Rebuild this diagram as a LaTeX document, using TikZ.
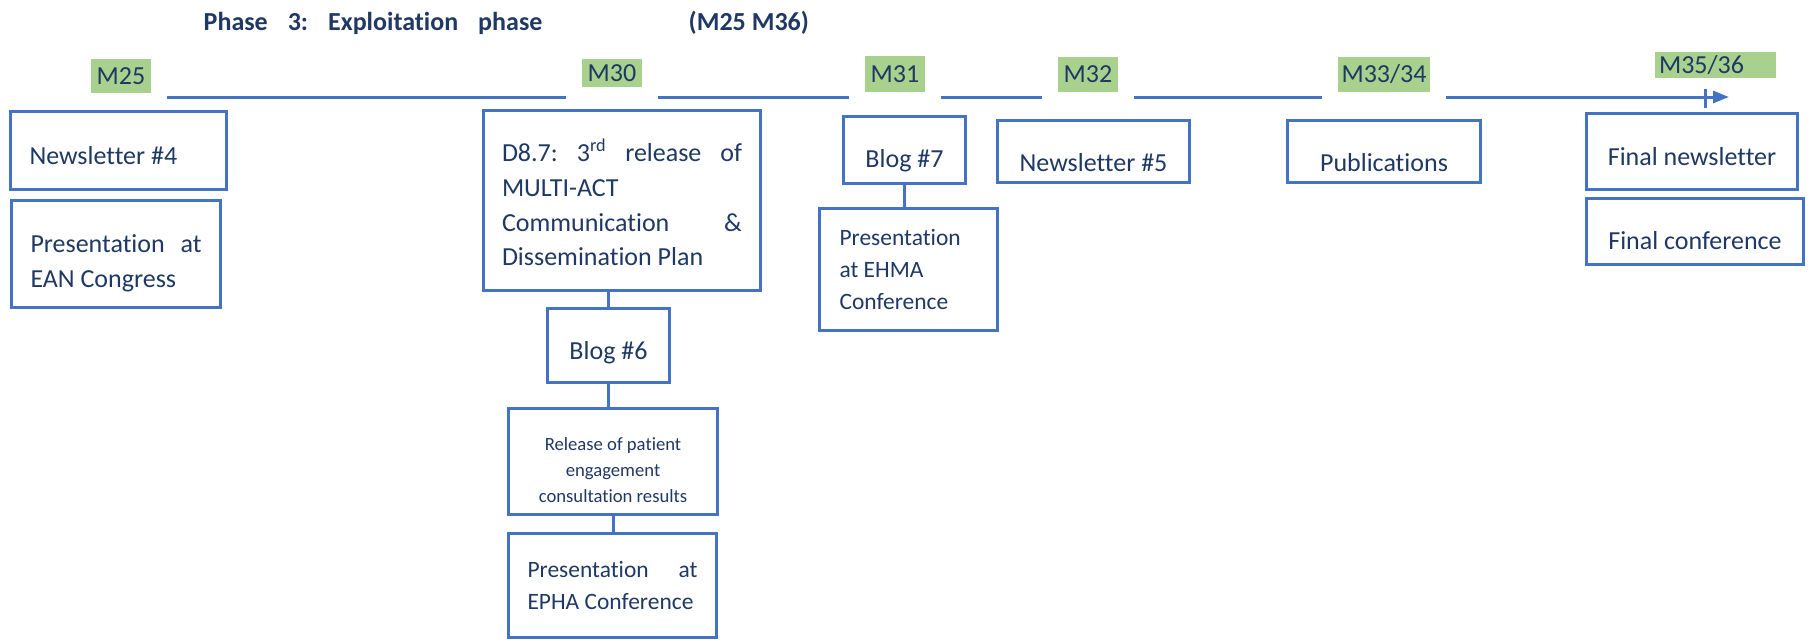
\documentclass[tikz,border=0pt]{standalone}
\usepackage{fontspec}
\setmainfont{Carlito}[Ligatures=NoCommon]
\usetikzlibrary{arrows.meta,calc}
\definecolor{navy}{HTML}{1F3864}
\definecolor{boxblue}{HTML}{4472C4}
\definecolor{mgreen}{HTML}{A9D18E}

\begin{document}
\begin{tikzpicture}[x=0.75pt,y=-0.75pt,
    every node/.style={text=navy, font=\fontsize{19.5}{26}\selectfont},
    evt/.style={draw=boxblue, line width=2.25pt, inner sep=0pt, anchor=north west},
    mlab/.style={fill=mgreen, inner sep=0pt},
    tline/.style={draw=boxblue, line width=2.25pt},
    conn/.style={draw=boxblue, line width=2.25pt},
    txtdown/.style={text height=#1, text depth=4pt}]
    \useasboundingbox (0,0) rectangle (1808,639);
    % title
    \node[anchor=base west, font=\bfseries\fontsize{19.5}{24}\selectfont] (title) at (199,30)
        {Phase\hspace{15pt}3:\hspace{15pt}Exploitation\hspace{15pt}phase};
    \node[anchor=base west, font=\bfseries\fontsize{19.5}{24}\selectfont] (period) at (684,30) {(M25 M36)};
    % month labels
    \node[mlab, minimum width=45pt, minimum height=25.5pt] (m25) at (121,76) {M25};
    \node[mlab, minimum width=45pt, minimum height=21pt] (m30) at (612,73) {M30};
    \node[mlab, minimum width=45pt, minimum height=27pt] (m31) at (895,74) {M31};
    \node[mlab, minimum width=45pt, minimum height=26.25pt] (m32) at (1088,74.5) {M32};
    \node[mlab, minimum width=69pt, minimum height=26.25pt] (m33) at (1384,74.5) {M33/34};
    \node[mlab, minimum width=90.75pt, minimum height=19.5pt, text width=84.75pt, align=flush left] (m35) at (1715.5,65) {M35/36};
    % timeline
    \coordinate (tl) at (0,97);
    \coordinate (tick) at (1705,97);
    \coordinate (tend) at (1729,97);
    \draw[tline] ($(m25.east |- tl)+(16,0)$) -- ($(m30.west |- tl)+(-16,0)$);
    \draw[tline] ($(m30.east |- tl)+(16,0)$) -- ($(m31.west |- tl)+(-16,0)$);
    \draw[tline] ($(m31.east |- tl)+(16,0)$) -- ($(m32.west |- tl)+(-16,0)$);
    \draw[tline] ($(m32.east |- tl)+(16,0)$) -- ($(m33.west |- tl)+(-16,0)$);
    \draw[tline, -{Triangle[length=12pt,width=9pt]}] ($(m33.east |- tl)+(16,0)$) -- (tend);
    \draw[tline] ($(tick)+(0,-8)$) -- ($(tick)+(0,11)$);
    % events
    \node[evt, minimum width=162pt, minimum height=58.5pt, text width=133.5pt, align=flush left, txtdown=24.9pt] (nl4) at (9,110) {Newsletter \#4};
    \node[evt, minimum width=156.75pt, minimum height=80.25pt, text width=128.25pt, align=flush left,
        text height=27.75pt] (ean) at (10,199)
        {Presentation\hfill at\\EAN Congress};
    \node[evt, minimum width=207.75pt, minimum height=135pt, text width=180pt, align=flush left,
        text height=20pt] (d87) at (482,109)
        {D8.7:\hfill 3\textsuperscript{rd}\hfill release\hfill of\\MULTI-ACT\\Communication\hfill \&\\Dissemination Plan};
    \node[evt, minimum width=91.5pt, minimum height=55.5pt, txtdown=25.6pt] (blog6) at (546,307) {Blog \#6};
    \node[evt, minimum width=156.75pt, minimum height=79.5pt, text width=139pt, align=flush center,
        font=\fontsize{14}{19.5}\selectfont, text height=22.5pt] (rel) at (507,407)
        {Release of patient\\engagement\\consultation results};
    \node[evt, minimum width=156pt, minimum height=78pt, text width=127.5pt, align=flush left,
        font=\fontsize{17.6}{24.3}\selectfont] (epha) at (507,532)
        {Presentation\hfill at\\EPHA Conference};
    \node[evt, minimum width=91.5pt, minimum height=50.25pt, txtdown=30.85pt] (blog7) at (842,115) {Blog \#7};
    \node[evt, minimum width=133.5pt, minimum height=91.5pt, text width=103.5pt, align=flush left,
        font=\fontsize{17.6}{24.3}\selectfont] (ehma) at (818,207)
        {Presentation\\at EHMA\\Conference};
    \node[evt, minimum width=144pt, minimum height=46.5pt, txtdown=34.6pt] (nl5) at (996,119) {Newsletter \#5};
    \node[evt, minimum width=144.75pt, minimum height=46.5pt, txtdown=34.6pt] (pub) at (1286,119) {Publications};
    \node[evt, minimum width=158.25pt, minimum height=57pt, txtdown=25.6pt] (fnl) at (1585,112) {Final newsletter};
    \node[evt, minimum width=162.75pt, minimum height=49.5pt, txtdown=31.6pt] (fconf) at (1585,197) {Final conference};
    % links
    \draw[conn] (blog6.north) -- (blog6.north |- d87.south);
    \draw[conn] (blog6.south) -- (blog6.south |- rel.north);
    \draw[conn] (rel.south) -- (rel.south |- epha.north);
    \draw[conn] (blog7.south) -- (blog7.south |- ehma.north);
\end{tikzpicture}
\end{document}
